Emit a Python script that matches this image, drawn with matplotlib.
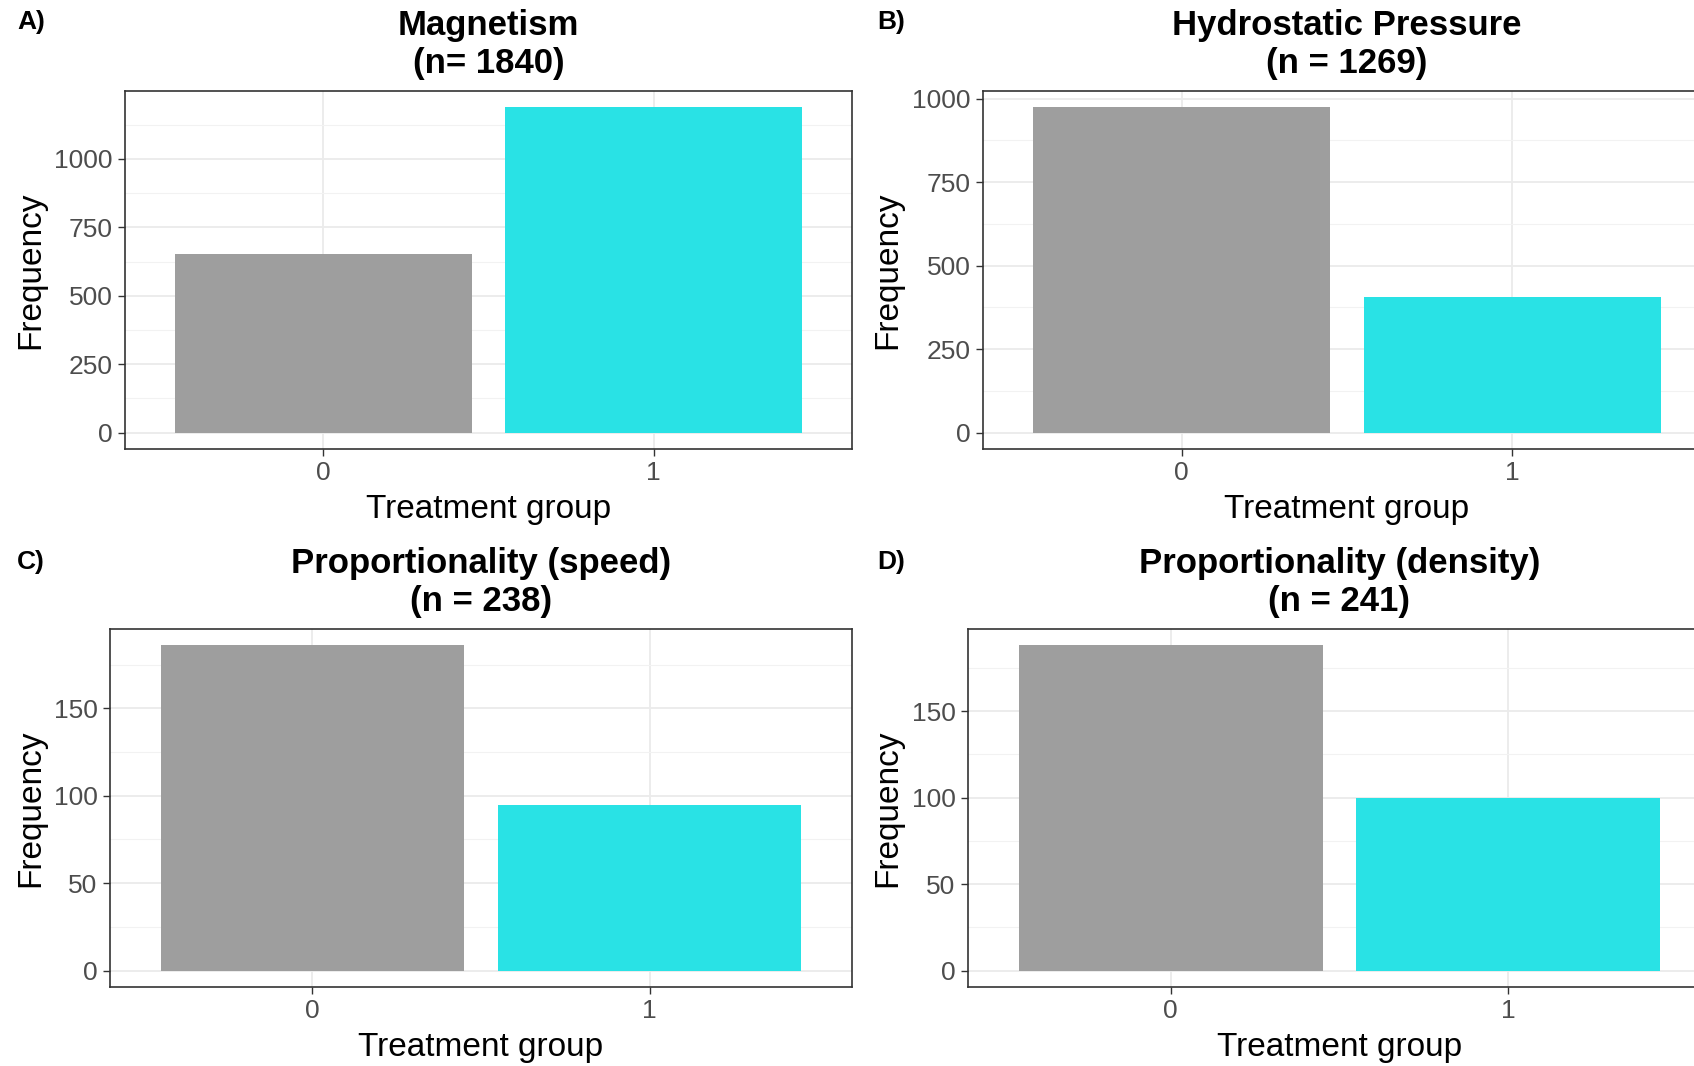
import numpy as np
import matplotlib
matplotlib.use("Agg")
import matplotlib.pyplot as plt
from matplotlib.ticker import MultipleLocator

plt.rcParams['font.family'] = ['Liberation Sans', 'DejaVu Sans']

W, H = 1694, 1066

groups = ["0", "1"]
titles = ["Magnetism\n(n= 1840)", "Hydrostatic Pressure\n(n = 1269)",
          "Proportionality (speed)\n(n = 238)", "Proportionality (density)\n(n = 241)"]
tags = ["A)", "B)", "C)", "D)"]
freq_a = [652, 1188]
freq_b = [974, 406]
freq_c = [186, 95]
freq_d = [188, 100]
major_step = [250, 250, 50, 50]

bar_colors = ["#9E9E9E", "#29E2E5"]

# panel boxes in pixels: left, right, top, bottom
boxes = [(125, 852, 91, 449), (983, 1711, 91, 449),
         (110, 852, 629, 987), (968, 1711, 629, 987)]
tag_pos = [(17, 22), (877, 22), (17, 562), (877, 562)]
ylab_right = [46, 903, 46, 903]

fig = plt.figure(figsize=(W / 100, H / 100), dpi=100)
fig.patch.set_facecolor("white")

for i, vals in enumerate([freq_a, freq_b, freq_c, freq_d]):
    l, r, t, b = boxes[i]
    ax = fig.add_axes([l / W, 1 - b / H, (r - l) / W, (b - t) / H])
    x = np.arange(len(groups))
    ax.bar(x, vals, width=0.9, color=bar_colors, zorder=2)
    vmax = max(vals)
    ax.set_ylim(-0.05 * vmax, 1.05 * vmax)
    ax.set_xlim(-0.6, 1.6)
    ax.set_xticks(x)
    ax.set_xticklabels(groups)
    ax.yaxis.set_major_locator(MultipleLocator(major_step[i]))
    ax.yaxis.set_minor_locator(MultipleLocator(major_step[i] / 2))
    ax.grid(which="major", color="#EBEBEB", linewidth=1.3, zorder=0)
    ax.grid(which="minor", axis="y", color="#F2F2F2", linewidth=0.8, zorder=0)
    ax.tick_params(which="minor", length=0)
    ax.tick_params(which="major", length=5, width=1, color="#333333",
                   labelsize=19, labelcolor="#4D4D4D", pad=4)
    for s in ax.spines.values():
        s.set_color("#333333")
        s.set_linewidth(1.2)
    ax.set_axisbelow(True)
    ax.set_xlabel("Treatment group", fontsize=24)
    ax.set_ylabel("Frequency", fontsize=24)
    ax.yaxis.set_label_coords((ylab_right[i] - l) / (r - l), 0.5)
    ax.xaxis.set_label_coords(0.5, -45 / (b - t))
    ax.set_title(titles[i], fontsize=25, fontweight="bold", pad=13, linespacing=1.2)
    tx, ty = tag_pos[i]
    fig.text(tx / W, 1 - ty / H, tags[i], fontsize=19, fontweight="bold",
             ha="left", va="center")

fig.savefig("out.png", dpi=100, facecolor="white")
